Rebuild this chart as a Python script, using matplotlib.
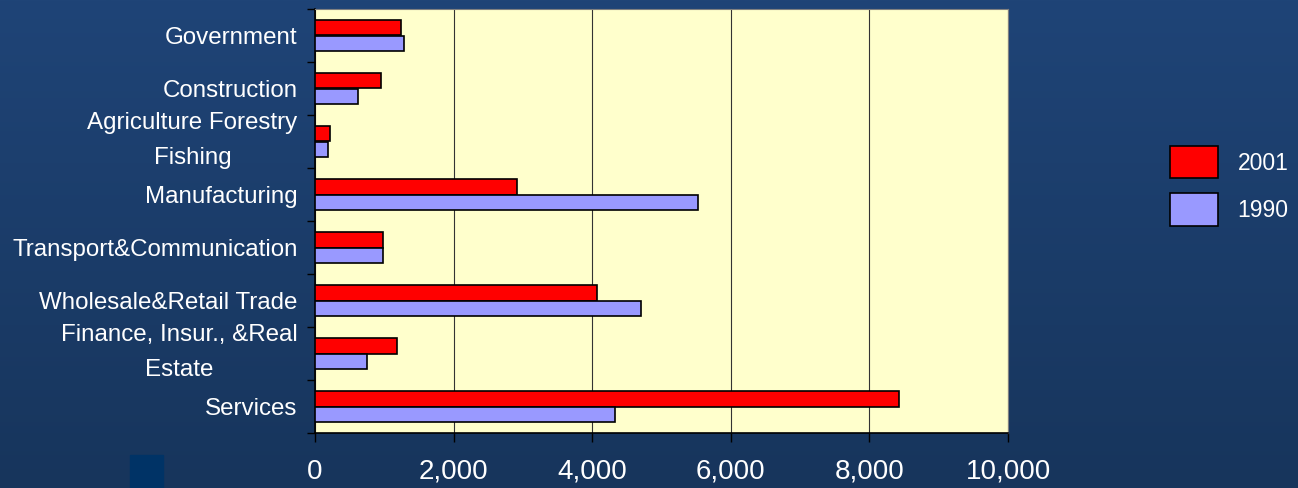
import numpy as np
import matplotlib
matplotlib.use("Agg")
import matplotlib.pyplot as plt
from matplotlib.patches import Rectangle

plt.rcParams["font.family"] = ["Liberation Sans", "DejaVu Sans"]

categories = ["Government", "Construction", "Agriculture Forestry\nFishing",
              "Manufacturing", "Transport&Communication", "Wholesale&Retail Trade",
              "Finance, Insur., &Real\nEstate", "Services"]
values_2001 = [1240, 950, 220, 2920, 985, 4070, 1185, 8430]
values_1990 = [1280, 620, 190, 5525, 975, 4700, 750, 4330]
series_labels = ["2001", "1990"]
x_ticks = [0, 2000, 4000, 6000, 8000, 10000]

fig = plt.figure(figsize=(12.98, 4.88), dpi=100)

# dark blue gradient background
bg = fig.add_axes([0, 0, 1, 1], zorder=-10)
grad = np.linspace(0, 1, 256).reshape(-1, 1)
top = np.array([0x1F, 0x44, 0x77]) / 255
bot = np.array([0x17, 0x35, 0x5C]) / 255
img = top + (bot - top) * grad[:, :, None]
bg.imshow(img, aspect="auto", extent=[0, 1, 0, 1])
bg.axis("off")
fig.patches.append(Rectangle((130 / 1298, 0), 33 / 1298, 33 / 488,
                             transform=fig.transFigure, color="#003366", zorder=-5))

ax = fig.add_axes([315 / 1298, 1 - 433 / 488, 693 / 1298, 424 / 488])
ax.set_facecolor("#FFFFCC")

y = np.arange(len(categories))
h = 0.285
ax.barh(y - h / 2, values_2001, height=h, color="#FF0000", edgecolor="black",
        linewidth=1.2, label=series_labels[0], zorder=3)
ax.barh(y + h / 2, values_1990, height=h, color="#9999FF", edgecolor="black",
        linewidth=1.2, label=series_labels[1], zorder=3)

ax.set_ylim(len(categories) - 0.5, -0.5)
ax.set_xlim(0, 10000)
ax.set_xticks(x_ticks)
ax.set_xticklabels([f"{v:,}" for v in x_ticks], fontsize=20, color="white")
ax.xaxis.grid(True, color="#333333", linewidth=0.8, zorder=1)

ax.set_yticks(np.arange(len(categories) + 1) - 0.5)
ax.set_yticklabels([])
# two-line labels sit a little higher than the category centre in the original
label_pos = [i - 0.18 if "\n" in c else i for i, c in enumerate(categories)]
ax.set_yticks(label_pos, minor=True)
ax.set_yticklabels(categories, minor=True, fontsize=17.4, color="white",
                   linespacing=1.75, multialignment="center")
ax.tick_params(axis="y", which="minor", length=0, pad=12.5)
ax.tick_params(axis="y", which="major", length=6, width=1, direction="out")
ax.tick_params(axis="x", length=6.5, width=1, direction="out", pad=12)

for side in ["top", "right"]:
    ax.spines[side].set_color("#808080")
for side in ["left", "bottom"]:
    ax.spines[side].set_color("black")
    ax.spines[side].set_linewidth(1.2)

leg = ax.legend(loc="upper left", bbox_to_anchor=(1170 / 1298, 1 - 146 / 488),
                bbox_transform=fig.transFigure, frameon=False, fontsize=16.5,
                borderpad=0, borderaxespad=0, handlelength=2.1, handleheight=1.8,
                labelspacing=0.65, handletextpad=0.85)
for t in leg.get_texts():
    t.set_color("white")

fig.savefig("out.png", dpi=100)
